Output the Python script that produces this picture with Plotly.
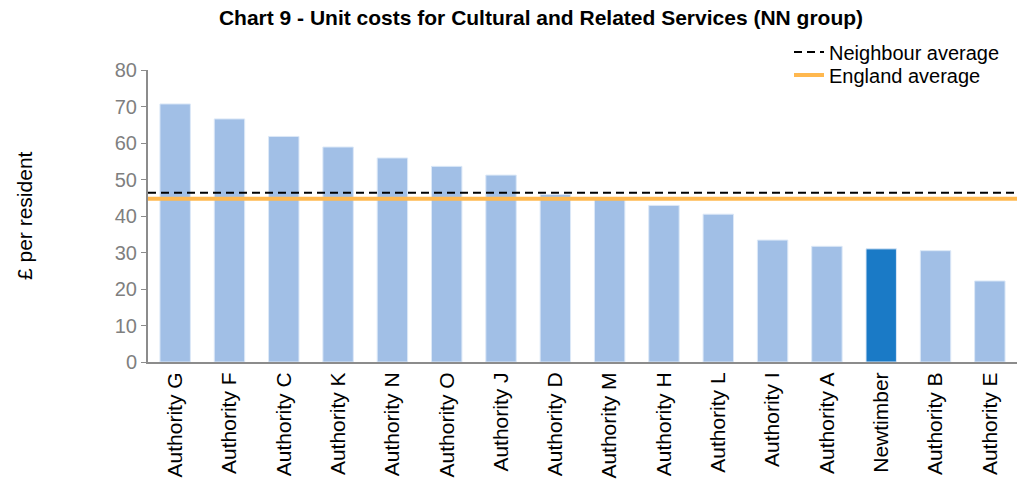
import plotly.graph_objects as go

categories = ["Authority G", "Authority F", "Authority C", "Authority K", "Authority N",
              "Authority O", "Authority J", "Authority D", "Authority M", "Authority H",
              "Authority L", "Authority I", "Authority A", "Newtimber", "Authority B",
              "Authority E"]
values = [70.7, 66.6, 61.8, 58.9, 55.9, 53.6, 51.2, 45.9, 44.8, 42.9, 40.5, 33.4, 31.7, 31.0, 30.5, 22.2]
highlight = "Newtimber"
neighbour_avg = 46.4
england_avg = 44.7
y_ticks = [0, 10, 20, 30, 40, 50, 60, 70, 80]

light = "#A1BFE6"
dark = "#1A7AC6"
colors = [dark if c == highlight else light for c in categories]

FONT = "Liberation Sans, Arial, sans-serif"
W, H = 1017, 486
ML, MR, MT, MB = 148, 0, 70, 124
PW = W - ML - MR
PH = H - MT - MB

fig = go.Figure()
fig.add_trace(go.Bar(x=categories, y=values, marker=dict(color=colors, line=dict(color="#DCE8F7", width=1)),
                     width=0.56, showlegend=False))
fig.add_trace(go.Scatter(x=[None], y=[None], mode="lines", name="Neighbour average",
                         line=dict(color="black", width=2, dash="8px,5px"), legend="legend"))
fig.add_trace(go.Scatter(x=[None], y=[None], mode="lines", name="England average",
                         line=dict(color="#FFB84F", width=4), legend="legend2"))

fig.add_shape(type="line", xref="paper", yref="y", x0=0, x1=1, y0=england_avg, y1=england_avg,
              line=dict(color="#FFB84F", width=4))
fig.add_shape(type="line", xref="paper", yref="y", x0=0, x1=1, y0=neighbour_avg, y1=neighbour_avg,
              line=dict(color="black", width=2, dash="8px,5px"))

leg_common = dict(xanchor="left", yanchor="middle", bgcolor="rgba(0,0,0,0)",
                  font=dict(size=20, color="black"), itemwidth=30)

fig.update_layout(
    width=W, height=H,
    margin=dict(l=ML, r=MR, t=MT, b=MB),
    plot_bgcolor="white", paper_bgcolor="white",
    font=dict(family=FONT, color="black"),
    title=dict(text="<b>Chart 9 - Unit costs for Cultural and Related Services (NN group)</b>",
               x=541 / W, xanchor="center", y=1 - 18 / H, yanchor="middle",
               font=dict(size=21, color="black")),
    bargap=0.44,
    legend=dict(x=(789 - ML) / PW, y=(H - MB - 52) / PH, **leg_common),
    legend2=dict(x=(789 - ML) / PW, y=(H - MB - 75) / PH, **leg_common),
    xaxis=dict(tickangle=-90, tickfont=dict(size=21, color="black"), showline=True,
               linecolor="#8C8C8C", linewidth=2, ticks="", showgrid=False),
    yaxis=dict(range=[0, 80], tickvals=y_ticks, tickfont=dict(size=20, color="#7F7F7F"),
               showline=True, linecolor="#8C8C8C", linewidth=2, ticks="outside", ticklen=5,
               tickcolor="#8C8C8C", showgrid=False, zeroline=False),
)
fig.add_annotation(text="£ per resident", xref="paper", yref="paper", x=(24 - ML) / PW, y=0.5,
                   textangle=-90, showarrow=False, font=dict(size=21, color="black"),
                   xanchor="center", yanchor="middle")

fig.write_html("out.html", config={"displayModeBar": False},
               post_script="document.body.style.margin='0';")
